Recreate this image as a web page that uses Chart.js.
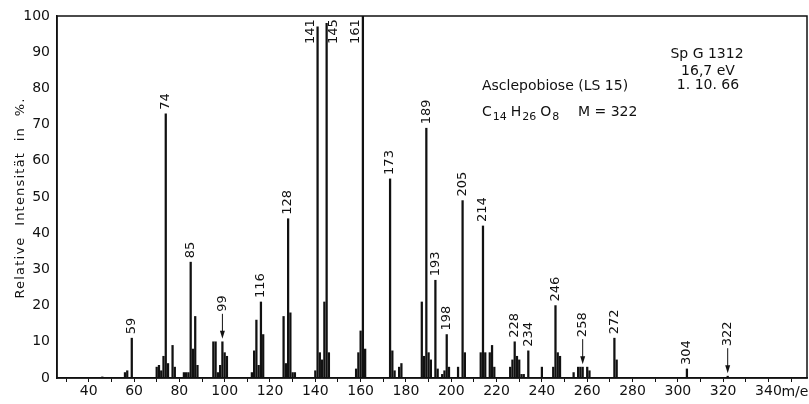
<!DOCTYPE html>
<html>
<head>
<meta charset="utf-8">
<script src="https://cdn.jsdelivr.net/npm/chart.js@4.4.1/dist/chart.umd.min.js"></script>
<style>
  html, body { margin: 0; padding: 0; background: #fff; }
  canvas { display: block; }
</style>
</head>
<body>
<canvas id="spektrum" width="809" height="404"></canvas>
<script>
// Massenspektrum Asclepobiose (LS 15)
const massen = [46, 56, 57, 59, 70, 71, 72, 73, 74, 75, 77, 78,
    82, 83, 84, 85, 86, 87, 88, 95, 96, 97, 98, 99, 100, 101,
    112, 113, 114, 115, 116, 117, 126, 127, 128, 129, 130, 131,
    140, 141, 142, 143, 144, 145, 146, 158, 159, 160, 161, 162,
    173, 174, 175, 177, 178, 187, 188, 189, 190, 191, 193, 194,
    196, 197, 198, 199, 203, 205, 206, 213, 214, 215, 217, 218, 219,
    226, 227, 228, 229, 230, 231, 232, 234, 240, 245, 246, 247, 248,
    254, 256, 257, 258, 260, 261, 272, 273, 304, 322];
const intensitaet = [0.3, 1.5, 2, 11, 3, 3.5, 2, 6, 73, 4, 9, 3,
    1.5, 1.5, 1.5, 32, 8, 17, 3.5, 10, 10, 1.5, 3.5, 10, 7, 6,
    1.5, 7.5, 16, 3.5, 21, 12, 17, 4, 44, 18, 1.5, 1.5,
    2, 97, 7, 5, 21, 98, 7, 2.5, 7, 13, 100, 8,
    55, 7.5, 2, 3, 4, 21, 6, 69, 7, 5, 27, 2.5,
    1, 2, 12, 3, 3, 49, 7, 7, 42, 7, 7, 9, 3,
    3, 5, 10, 6, 5, 1, 1, 7.5, 3, 3, 20, 7, 6,
    1.5, 3, 3, 3, 3, 2, 11, 5, 2.5, 0.5];

// beschriftete Peaks
const peakLabels = [59, 74, 85, 99, 116, 128, 141, 145, 161, 173, 189, 193,
    198, 205, 214, 228, 234, 246, 258, 272, 304, 322];
const pfeilPeaks = [99, 258, 322];

const xTicks = [30, 40, 50, 60, 70, 80, 90, 100, 110, 120, 130, 140, 150, 160,
    170, 180, 190, 200, 210, 220, 230, 240, 250, 260, 270, 280, 290, 300,
    310, 320, 330, 340, 350];
const yTicks = [0, 10, 20, 30, 40, 50, 60, 70, 80, 90, 100];

const SCHRIFT = '"DejaVu Sans", sans-serif';
const INK = '#111';

const rahmen = {
    id: 'rahmen',
    afterDraw(chart) {
        const { ctx, chartArea: a } = chart;
        ctx.save();
        ctx.strokeStyle = INK;
        ctx.lineWidth = 1.5;
        ctx.strokeRect(a.left, a.top, a.right - a.left, a.bottom - a.top);
        ctx.restore();
    }
};

const beschriftung = {
    id: 'beschriftung',
    afterDatasetsDraw(chart) {
        const { ctx, scales } = chart;
        ctx.save();
        ctx.fillStyle = INK;
        ctx.strokeStyle = INK;
        ctx.lineWidth = 1;
        ctx.font = '13px ' + SCHRIFT;
        ctx.textBaseline = 'middle';
        ctx.textAlign = 'left';

        const seite = { 141: -7, 145: 7, 161: -7 };

        peakLabels.forEach(m => {
            const i = massen.indexOf(m);
            const x = scales.x.getPixelForValue(m);
            const yTop = scales.y.getPixelForValue(intensitaet[i]);
            let start = yTop - 4;
            let tx = x;
            if (seite[m] !== undefined) {
                tx = x + seite[m];
                start = chart.chartArea.top + 28;
            } else if (pfeilPeaks.includes(m)) {
                start = yTop - 30;
                ctx.beginPath();
                ctx.moveTo(x, yTop - 28);
                ctx.lineTo(x, yTop - 8);
                ctx.stroke();
                ctx.beginPath();
                ctx.moveTo(x, yTop - 3);
                ctx.lineTo(x - 2.5, yTop - 11);
                ctx.lineTo(x + 2.5, yTop - 11);
                ctx.closePath();
                ctx.fill();
            }
            ctx.save();
            ctx.translate(tx, start);
            ctx.rotate(-Math.PI / 2);
            ctx.fillText(String(m), 0, 0);
            ctx.restore();
        });

        // Achsentitel, etwas gesperrt wie im Original
        ctx.save();
        ctx.font = '13px ' + SCHRIFT;
        ctx.letterSpacing = '1.2px';
        ctx.textAlign = 'center';
        ctx.translate(21, 198);
        ctx.rotate(-Math.PI / 2);
        ctx.fillText('Relative  Intensität  in  %.', 0, 0);
        ctx.restore();

        // Angaben zur Substanz
        ctx.font = '14px ' + SCHRIFT;
        ctx.textAlign = 'center';
        ctx.fillText('Sp G 1312', 707, 54);
        ctx.fillText('16,7 eV', 708, 71);
        ctx.fillText('1. 10. 66', 708, 85);

        ctx.textAlign = 'left';
        ctx.fillText('Asclepobiose (LS 15)', 482, 86);

        // Summenformel mit tiefgestellten Zahlen
        let fx = 482;
        const fy = 112;
        [['C', '14'], ['H', '26'], ['O', '8']].forEach(([el, n]) => {
            ctx.font = '14px ' + SCHRIFT;
            ctx.fillText(el, fx, fy);
            fx += ctx.measureText(el).width + 1;
            ctx.font = '11px ' + SCHRIFT;
            ctx.fillText(n, fx, fy + 5);
            fx += ctx.measureText(n).width + 4;
        });
        ctx.font = '14px ' + SCHRIFT;
        ctx.fillText('M = 322', 578, fy);

        // Einheit hinter der letzten Achsenbeschriftung
        const x340 = scales.x.getPixelForValue(340);
        ctx.fillText('m/e', x340 + 13, 392);
        ctx.restore();
    }
};

new Chart(document.getElementById('spektrum'), {
    type: 'bar',
    data: {
        datasets: [{
            data: massen.map((m, i) => ({ x: m, y: intensitaet[i] })),
            backgroundColor: INK,
            borderWidth: 0,
            barThickness: 1.6,
            grouped: false
        }]
    },
    options: {
        responsive: false,
        animation: false,
        devicePixelRatio: 1,
        layout: { padding: { top: 16, right: 2, left: 0, bottom: 0 } },
        plugins: {
            legend: { display: false },
            tooltip: { enabled: false }
        },
        scales: {
            x: {
                type: 'linear',
                min: 26,
                max: 357,
                offset: false,
                afterBuildTicks: scale => {
                    scale.ticks = xTicks.map(v => ({ value: v }));
                },
                afterFit: scale => { scale.height = 26; },
                ticks: {
                    autoSkip: false,
                    maxRotation: 0,
                    color: INK,
                    padding: 1,
                    font: { family: SCHRIFT, size: 14 },
                    callback: v => (v % 20 === 0 ? String(v) : '')
                },
                grid: {
                    offset: false,
                    drawOnChartArea: false,
                    drawTicks: true,
                    tickLength: 4,
                    color: INK
                },
                border: { display: true, color: INK, width: 1.5 }
            },
            y: {
                min: 0,
                max: 100,
                afterBuildTicks: scale => {
                    scale.ticks = yTicks.map(v => ({ value: v }));
                },
                afterFit: scale => { scale.width = 57; },
                ticks: {
                    color: INK,
                    padding: 7,
                    font: { family: SCHRIFT, size: 14 }
                },
                grid: { display: false, drawTicks: false },
                border: { display: true, color: INK, width: 1.5 }
            }
        }
    },
    plugins: [rahmen, beschriftung]
});
</script>
</body>
</html>
